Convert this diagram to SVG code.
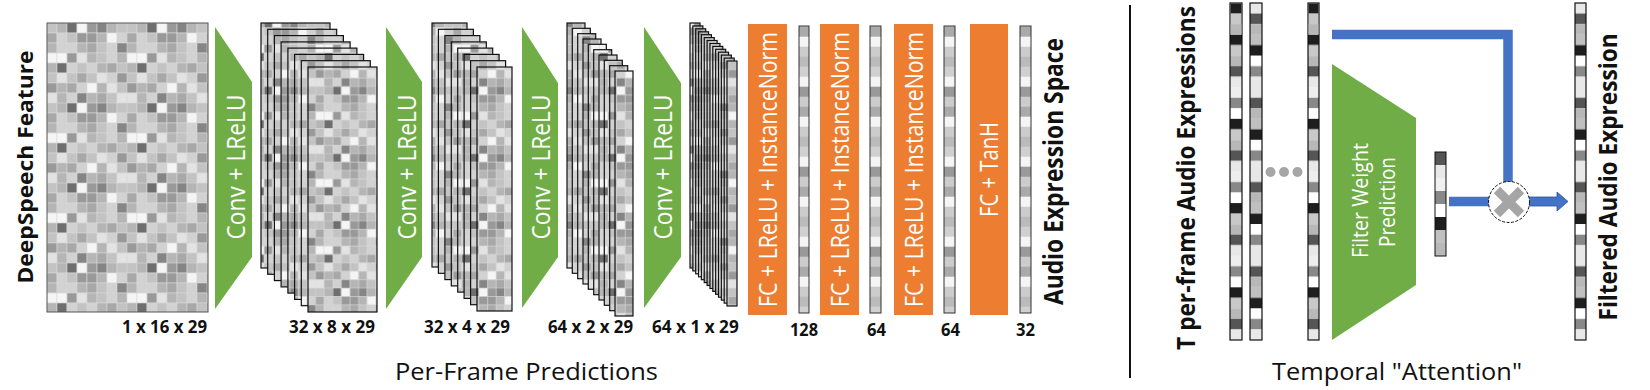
<svg xmlns="http://www.w3.org/2000/svg" xmlns:xlink="http://www.w3.org/1999/xlink" width="1650" height="390" viewBox="0 0 1650 390">
<style>
.t{font-family:"Open Sans","Liberation Sans",sans-serif;fill:#111}
.b{font-weight:700}
.w{fill:#fff}
.c rect{stroke:#d8d8d8;stroke-width:0.6}
.grn{fill:#70AD47}
.org{fill:#ED7D31}
.sh{fill:url(#ps);stroke:#111;stroke-width:1.2}
.bar{stroke:#333;stroke-width:1}
.rb{stroke:#111;stroke-width:1.2}
.blue{stroke:#4472C4;fill:none;stroke-width:9.5}
</style>
<defs>
<pattern id="pg" patternUnits="userSpaceOnUse" x="47" y="23" width="80" height="80">
<g class="c">
<rect x="0" y="0" width="10" height="10" fill="#c3c3c3"/><rect x="10" y="0" width="10" height="10" fill="#b5b5b5"/><rect x="20" y="0" width="10" height="10" fill="#6e6e6e"/><rect x="30" y="0" width="10" height="10" fill="#f5f5f5"/><rect x="40" y="0" width="10" height="10" fill="#999999"/><rect x="50" y="0" width="10" height="10" fill="#858585"/><rect x="60" y="0" width="10" height="10" fill="#b5b5b5"/><rect x="70" y="0" width="10" height="10" fill="#c3c3c3"/>
<rect x="0" y="10" width="10" height="10" fill="#a8a8a8"/><rect x="10" y="10" width="10" height="10" fill="#d2d2d2"/><rect x="20" y="10" width="10" height="10" fill="#c3c3c3"/><rect x="30" y="10" width="10" height="10" fill="#999999"/><rect x="40" y="10" width="10" height="10" fill="#999999"/><rect x="50" y="10" width="10" height="10" fill="#b5b5b5"/><rect x="60" y="10" width="10" height="10" fill="#f5f5f5"/><rect x="70" y="10" width="10" height="10" fill="#d2d2d2"/>
<rect x="0" y="20" width="10" height="10" fill="#b5b5b5"/><rect x="10" y="20" width="10" height="10" fill="#d2d2d2"/><rect x="20" y="20" width="10" height="10" fill="#d2d2d2"/><rect x="30" y="20" width="10" height="10" fill="#b5b5b5"/><rect x="40" y="20" width="10" height="10" fill="#a8a8a8"/><rect x="50" y="20" width="10" height="10" fill="#c3c3c3"/><rect x="60" y="20" width="10" height="10" fill="#d2d2d2"/><rect x="70" y="20" width="10" height="10" fill="#858585"/>
<rect x="0" y="30" width="10" height="10" fill="#f5f5f5"/><rect x="10" y="30" width="10" height="10" fill="#f5f5f5"/><rect x="20" y="30" width="10" height="10" fill="#999999"/><rect x="30" y="30" width="10" height="10" fill="#e3e3e3"/><rect x="40" y="30" width="10" height="10" fill="#b5b5b5"/><rect x="50" y="30" width="10" height="10" fill="#c3c3c3"/><rect x="60" y="30" width="10" height="10" fill="#d2d2d2"/><rect x="70" y="30" width="10" height="10" fill="#b5b5b5"/>
<rect x="0" y="40" width="10" height="10" fill="#b5b5b5"/><rect x="10" y="40" width="10" height="10" fill="#6e6e6e"/><rect x="20" y="40" width="10" height="10" fill="#d2d2d2"/><rect x="30" y="40" width="10" height="10" fill="#c3c3c3"/><rect x="40" y="40" width="10" height="10" fill="#d2d2d2"/><rect x="50" y="40" width="10" height="10" fill="#b5b5b5"/><rect x="60" y="40" width="10" height="10" fill="#a8a8a8"/><rect x="70" y="40" width="10" height="10" fill="#c3c3c3"/>
<rect x="0" y="50" width="10" height="10" fill="#c3c3c3"/><rect x="10" y="50" width="10" height="10" fill="#e3e3e3"/><rect x="20" y="50" width="10" height="10" fill="#c3c3c3"/><rect x="30" y="50" width="10" height="10" fill="#a8a8a8"/><rect x="40" y="50" width="10" height="10" fill="#c3c3c3"/><rect x="50" y="50" width="10" height="10" fill="#e3e3e3"/><rect x="60" y="50" width="10" height="10" fill="#d2d2d2"/><rect x="70" y="50" width="10" height="10" fill="#999999"/>
<rect x="0" y="60" width="10" height="10" fill="#999999"/><rect x="10" y="60" width="10" height="10" fill="#b5b5b5"/><rect x="20" y="60" width="10" height="10" fill="#a8a8a8"/><rect x="30" y="60" width="10" height="10" fill="#d2d2d2"/><rect x="40" y="60" width="10" height="10" fill="#f5f5f5"/><rect x="50" y="60" width="10" height="10" fill="#b5b5b5"/><rect x="60" y="60" width="10" height="10" fill="#e3e3e3"/><rect x="70" y="60" width="10" height="10" fill="#c3c3c3"/>
<rect x="0" y="70" width="10" height="10" fill="#e3e3e3"/><rect x="10" y="70" width="10" height="10" fill="#b5b5b5"/><rect x="20" y="70" width="10" height="10" fill="#d2d2d2"/><rect x="30" y="70" width="10" height="10" fill="#858585"/><rect x="40" y="70" width="10" height="10" fill="#b5b5b5"/><rect x="50" y="70" width="10" height="10" fill="#a8a8a8"/><rect x="60" y="70" width="10" height="10" fill="#c3c3c3"/><rect x="70" y="70" width="10" height="10" fill="#e3e3e3"/>
</g>
</pattern>
<pattern id="ps" xlink:href="#pg" patternTransform="scale(0.86 0.84)"/>
<pattern id="pv" patternUnits="userSpaceOnUse" x="0" y="-3.3" width="20" height="80">
<rect x="0" y="0" width="20" height="10" fill="#f5f5f5"/><rect x="0" y="10" width="20" height="10" fill="#999999"/><rect x="0" y="20" width="20" height="10" fill="#cccccc"/><rect x="0" y="30" width="20" height="10" fill="#aaaaaa"/><rect x="0" y="40" width="20" height="10" fill="#f5f5f5"/><rect x="0" y="50" width="20" height="10" fill="#cccccc"/><rect x="0" y="60" width="20" height="10" fill="#bbbbbb"/><rect x="0" y="70" width="20" height="10" fill="#d0d0d0"/>
</pattern>
<pattern id="pa" patternUnits="userSpaceOnUse" x="0" y="34.6" width="20" height="84.24">
<rect x="0" y="0" width="20" height="10.53" fill="#1e1e1e"/><rect x="0" y="10.53" width="20" height="10.53" fill="#c8c8c8"/><rect x="0" y="21.06" width="20" height="10.53" fill="#b8b8b8"/><rect x="0" y="31.59" width="20" height="10.53" fill="#555555"/><rect x="0" y="42.12" width="20" height="10.53" fill="#e8e8e8"/><rect x="0" y="52.65" width="20" height="10.53" fill="#eeeeee"/><rect x="0" y="63.18" width="20" height="10.53" fill="#888888"/><rect x="0" y="73.71" width="20" height="10.53" fill="#ffffff"/>
</pattern>
<pattern id="pb" patternUnits="userSpaceOnUse" x="0" y="3" width="20" height="84.24">
<rect x="0" y="0" width="20" height="10.53" fill="#e8e8e8"/><rect x="0" y="10.53" width="20" height="10.53" fill="#555555"/><rect x="0" y="21.06" width="20" height="10.53" fill="#b8b8b8"/><rect x="0" y="31.59" width="20" height="10.53" fill="#c0c0c0"/><rect x="0" y="42.12" width="20" height="10.53" fill="#1e1e1e"/><rect x="0" y="52.65" width="20" height="10.53" fill="#ffffff"/><rect x="0" y="63.18" width="20" height="10.53" fill="#888888"/><rect x="0" y="73.71" width="20" height="10.53" fill="#e8e8e8"/>
</pattern>
</defs>
<rect width="1650" height="390" fill="#fff"/>

<g id="deepspeech-feature">
<rect x="47" y="23" width="161" height="289" fill="url(#pg)" stroke="#555" stroke-width="1"/>
<text class="t b" font-size="22" text-anchor="middle" textLength="233" lengthAdjust="spacingAndGlyphs" transform="translate(33 167) rotate(-90)">DeepSpeech Feature</text>
<text class="t b" font-size="18" textLength="100" lengthAdjust="spacingAndGlyphs" transform="translate(122 333) scale(0.85 1)">1 x 16 x 29</text>
</g>

<g id="conv1">
<polygon class="grn" points="215,27 252,82 252,257 215,309"/>
<text class="t w" font-size="26" text-anchor="middle" textLength="166" lengthAdjust="spacingAndGlyphs" transform="translate(244.5 167) rotate(-90) scale(0.873 1)">Conv + LReLU</text>
</g>

<g id="features-32x8x29">
<rect class="sh" x="261" y="23" width="69" height="245"/>
<rect class="sh" x="267.7" y="29.3" width="69" height="245"/>
<rect class="sh" x="274.4" y="35.6" width="69" height="245"/>
<rect class="sh" x="281.1" y="41.9" width="69" height="245"/>
<rect class="sh" x="287.9" y="48.1" width="69" height="245"/>
<rect class="sh" x="294.6" y="54.4" width="69" height="245"/>
<rect class="sh" x="301.3" y="60.7" width="69" height="245"/>
<rect class="sh" x="308" y="67" width="69" height="245"/>
<text class="t b" font-size="18" textLength="101" lengthAdjust="spacingAndGlyphs" transform="translate(289 333) scale(0.85 1)">32 x 8 x 29</text>
</g>

<g id="conv2">
<polygon class="grn" points="386,27 422,82 422,257 386,309"/>
<text class="t w" font-size="26" text-anchor="middle" textLength="166" lengthAdjust="spacingAndGlyphs" transform="translate(415.5 167) rotate(-90) scale(0.873 1)">Conv + LReLU</text>
</g>

<g id="features-32x4x29">
<rect class="sh" x="432" y="23" width="35" height="244"/>
<rect class="sh" x="438.4" y="29.3" width="35" height="244"/>
<rect class="sh" x="444.9" y="35.6" width="35" height="244"/>
<rect class="sh" x="451.3" y="41.9" width="35" height="244"/>
<rect class="sh" x="457.7" y="48.1" width="35" height="244"/>
<rect class="sh" x="464.1" y="54.4" width="35" height="244"/>
<rect class="sh" x="470.6" y="60.7" width="35" height="244"/>
<rect class="sh" x="477" y="67" width="35" height="244"/>
<text class="t b" font-size="18" textLength="101" lengthAdjust="spacingAndGlyphs" transform="translate(424 333) scale(0.85 1)">32 x 4 x 29</text>
</g>

<g id="conv3">
<polygon class="grn" points="522,27 558,83 558,257 522,308"/>
<text class="t w" font-size="26" text-anchor="middle" textLength="166" lengthAdjust="spacingAndGlyphs" transform="translate(550 167) rotate(-90) scale(0.873 1)">Conv + LReLU</text>
</g>

<g id="features-64x2x29">
<rect class="sh" x="567" y="23" width="18" height="245"/>
<rect class="sh" x="572.3" y="28.3" width="18" height="245"/>
<rect class="sh" x="577.7" y="33.7" width="18" height="245"/>
<rect class="sh" x="583" y="39" width="18" height="245"/>
<rect class="sh" x="588.3" y="44.3" width="18" height="245"/>
<rect class="sh" x="593.7" y="49.7" width="18" height="245"/>
<rect class="sh" x="599" y="55" width="18" height="245"/>
<rect class="sh" x="604.3" y="60.3" width="18" height="245"/>
<rect class="sh" x="609.7" y="65.7" width="18" height="245"/>
<rect class="sh" x="615" y="71" width="18" height="245"/>
<text class="t b" font-size="18" textLength="100" lengthAdjust="spacingAndGlyphs" transform="translate(548 333) scale(0.85 1)">64 x 2 x 29</text>
</g>

<g id="conv4">
<polygon class="grn" points="644,27 681,83 681,257 644,308"/>
<text class="t w" font-size="26" text-anchor="middle" textLength="166" lengthAdjust="spacingAndGlyphs" transform="translate(672 167) rotate(-90) scale(0.873 1)">Conv + LReLU</text>
</g>

<g id="features-64x1x29">
<rect class="sh" x="690" y="23" width="10" height="245"/>
<rect class="sh" x="692.85" y="25.9" width="10" height="245"/>
<rect class="sh" x="695.7" y="28.8" width="10" height="245"/>
<rect class="sh" x="698.55" y="31.8" width="10" height="245"/>
<rect class="sh" x="701.4" y="34.7" width="10" height="245"/>
<rect class="sh" x="704.25" y="37.6" width="10" height="245"/>
<rect class="sh" x="707.1" y="40.5" width="10" height="245"/>
<rect class="sh" x="709.95" y="43.5" width="10" height="245"/>
<rect class="sh" x="712.8" y="46.4" width="10" height="245"/>
<rect class="sh" x="715.65" y="49.3" width="10" height="245"/>
<rect class="sh" x="718.5" y="52.2" width="10" height="245"/>
<rect class="sh" x="721.35" y="55.1" width="10" height="245"/>
<rect class="sh" x="724.2" y="58.1" width="10" height="245"/>
<rect class="sh" x="727" y="61" width="10" height="245"/>
<text class="t b" font-size="18" textLength="102" lengthAdjust="spacingAndGlyphs" transform="translate(652 333) scale(0.85 1)">64 x 1 x 29</text>
</g>

<g id="fc1">
<rect class="org" x="748" y="24" width="39" height="291"/>
<text class="t w" font-size="25" text-anchor="middle" textLength="323.5" lengthAdjust="spacingAndGlyphs" transform="translate(777 169.5) rotate(-90) scale(0.85 1)">FC + LReLU + InstanceNorm</text>
</g>
<g id="vec128">
<rect class="bar" x="799" y="26" width="10" height="287" fill="url(#pv)"/>
<text class="t b" font-size="18" x="790" y="336" textLength="28" lengthAdjust="spacingAndGlyphs">128</text>
</g>
<g id="fc2">
<rect class="org" x="820" y="24" width="39" height="291"/>
<text class="t w" font-size="25" text-anchor="middle" textLength="323.5" lengthAdjust="spacingAndGlyphs" transform="translate(849 169.5) rotate(-90) scale(0.85 1)">FC + LReLU + InstanceNorm</text>
</g>
<g id="vec64a">
<rect class="bar" x="870" y="26" width="11" height="287" fill="url(#pv)"/>
<text class="t b" font-size="18" x="867" y="336" textLength="19" lengthAdjust="spacingAndGlyphs">64</text>
</g>
<g id="fc3">
<rect class="org" x="894" y="24" width="39" height="291"/>
<text class="t w" font-size="25" text-anchor="middle" textLength="323.5" lengthAdjust="spacingAndGlyphs" transform="translate(923 169.5) rotate(-90) scale(0.85 1)">FC + LReLU + InstanceNorm</text>
</g>
<g id="vec64b">
<rect class="bar" x="944" y="26" width="11" height="287" fill="url(#pv)"/>
<text class="t b" font-size="18" x="941" y="336" textLength="19" lengthAdjust="spacingAndGlyphs">64</text>
</g>
<g id="fc4">
<rect class="org" x="970" y="24" width="38" height="291"/>
<text class="t w" font-size="25" text-anchor="middle" textLength="118" lengthAdjust="spacingAndGlyphs" transform="translate(998 169.5) rotate(-90) scale(0.805 1)">FC + TanH</text>
</g>
<g id="vec32">
<rect class="bar" x="1020" y="26" width="11" height="287" fill="url(#pv)"/>
<text class="t b" font-size="18" x="1016" y="336" textLength="19" lengthAdjust="spacingAndGlyphs">32</text>
</g>
<g id="audio-expression-space">
<text class="t b" font-size="27" text-anchor="middle" textLength="318" lengthAdjust="spacingAndGlyphs" transform="translate(1063 171.5) rotate(-90) scale(0.84 1)">Audio Expression Space</text>
</g>
<g id="caption-left">
<text class="t" font-size="24" x="526.5" y="380" text-anchor="middle" textLength="263" lengthAdjust="spacingAndGlyphs">Per-Frame Predictions</text>
</g>

<g id="divider">
<line x1="1130" y1="5" x2="1130" y2="378" stroke="#111" stroke-width="2"/>
</g>

<g id="t-per-frame">
<text class="t b" font-size="25" text-anchor="middle" textLength="382" lengthAdjust="spacingAndGlyphs" transform="translate(1195 178) rotate(-90) scale(0.9 1)">T per-frame Audio Expressions</text>
<rect class="rb" x="1230" y="3" width="12" height="337" fill="url(#pa)"/>
<rect x="1230.6" y="3.6" width="10.8" height="10" fill="#1e1e1e"/><rect x="1230.6" y="13.5" width="10.8" height="10.6" fill="#c8c8c8"/><rect x="1230.6" y="24.1" width="10.8" height="10.5" fill="#b8b8b8"/>
<rect class="rb" x="1250" y="3" width="12" height="337" fill="url(#pb)"/>
<circle cx="1270.5" cy="172" r="5" fill="#a6a6a6"/><circle cx="1284" cy="172" r="5" fill="#a6a6a6"/><circle cx="1297.5" cy="172" r="5" fill="#a6a6a6"/>
<rect class="rb" x="1308" y="3" width="11" height="337" fill="url(#pa)"/>
<rect x="1308.6" y="3.6" width="9.8" height="10" fill="#1e1e1e"/><rect x="1308.6" y="13.5" width="9.8" height="10.6" fill="#c8c8c8"/><rect x="1308.6" y="24.1" width="9.8" height="10.5" fill="#b8b8b8"/>
</g>

<g id="filter-weight-prediction">
<polygon class="grn" points="1332,64 1416,118 1416,285 1332,340"/>
<text class="t w" font-size="21" text-anchor="middle" textLength="123.6" lengthAdjust="spacingAndGlyphs" transform="translate(1368 200.5) rotate(-90) scale(0.93 1)">Filter Weight</text>
<text class="t w" font-size="21" text-anchor="middle" textLength="99.3" lengthAdjust="spacingAndGlyphs" transform="translate(1395 202) rotate(-90) scale(0.906 1)">Prediction</text>
</g>

<g id="filter-weights">
<rect x="1435" y="152" width="11" height="13" fill="#555555"/>
<rect x="1435" y="165" width="11" height="13" fill="#e8e8e8"/>
<rect x="1435" y="178" width="11" height="13" fill="#f0f0f0"/>
<rect x="1435" y="191" width="11" height="13" fill="#888888"/>
<rect x="1435" y="204" width="11" height="13" fill="#ffffff"/>
<rect x="1435" y="217" width="11" height="13" fill="#1e1e1e"/>
<rect x="1435" y="230" width="11" height="13" fill="#c0c0c0"/>
<rect x="1435" y="243" width="11" height="13" fill="#b8b8b8"/>
<rect x="1435" y="152" width="11" height="104" fill="none" stroke="#111" stroke-width="1"/>
</g>

<g id="connectors">
<path class="blue" d="M1332,34.5 H1508 V190"/>
<path class="blue" d="M1449,201.5 H1495"/>
<polygon points="1522,197 1557,197 1557,192 1568,201.5 1557,211 1557,206 1522,206" fill="#4472C4" stroke="#2F5597" stroke-width="0.8"/>
</g>

<g id="multiply">
<circle cx="1509" cy="202" r="20.5" fill="#fff" stroke="#111" stroke-width="1" stroke-dasharray="3 1.5"/>
<path d="M1497,190 L1521,214 M1521,190 L1497,214" stroke="#a5a5a5" stroke-width="9"/>
</g>

<g id="filtered-audio-expression">
<rect class="rb" x="1575" y="3" width="11" height="337" fill="url(#pb)"/>
<text class="t b" font-size="25" text-anchor="middle" textLength="320" lengthAdjust="spacingAndGlyphs" transform="translate(1617 177) rotate(-90) scale(0.897 1)">Filtered Audio Expression</text>
</g>

<g id="caption-right">
<text class="t" font-size="24" x="1397" y="380" text-anchor="middle" textLength="250" lengthAdjust="spacingAndGlyphs">Temporal "Attention"</text>
</g>
</svg>
